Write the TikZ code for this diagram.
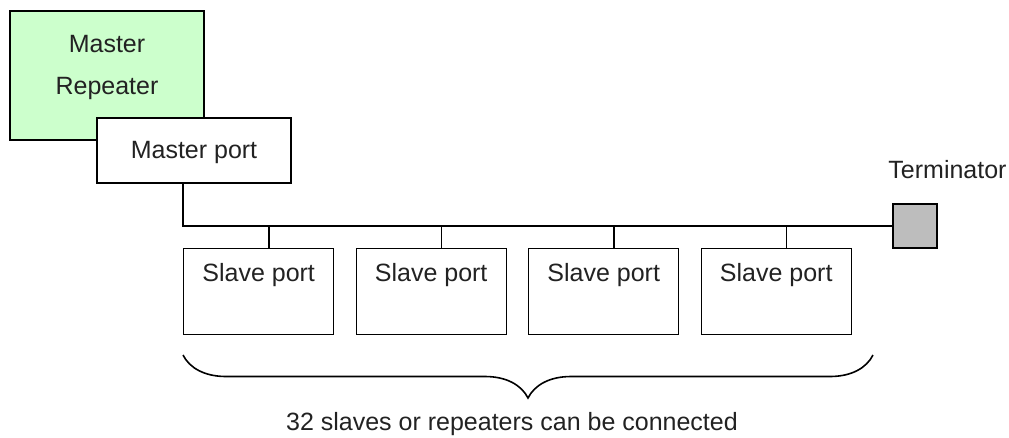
\documentclass[tikz,border=0pt]{standalone}
\usepackage{fontspec}
\setmainfont{Liberation Sans}
\usetikzlibrary{decorations.pathreplacing}
\definecolor{mrgreen}{HTML}{CCFFCC}
\definecolor{termgray}{HTML}{BDBDBD}
\definecolor{txtc}{HTML}{222222}
\tikzset{
  box/.style={draw=black, line width=1.4pt, fill=white, rectangle, inner sep=0pt},
  txt/.style={font=\fontsize{25}{30}\selectfont, text=txtc, inner sep=0pt},
  wire/.style={draw=black, line width=1.4pt}
}
\begin{document}
\begin{tikzpicture}[x=1pt,y=-1pt]
\useasboundingbox (0,0) rectangle (1009,437);
% Master repeater
\node[box, line width=2.6pt, fill=mrgreen, minimum width=194pt, minimum height=129pt] (mr) at (107,75.5) {};
\node[txt, anchor=base] (mrt1) at (107,52) {Master};
\node[txt, anchor=base] (mrt2) at (107,94) {Repeater};
% Master port
\node[box, minimum width=194pt, minimum height=65pt] (mp) at (194,150.5) {};
\node[txt, anchor=base] (mpt) at (194,158) {Master port};
% Terminator
\node[box, fill=termgray, minimum width=44pt, minimum height=44pt] (term) at (915,226) {};
\node[txt, anchor=base] (termt) at (947.5,178) {Terminator};
% Slave ports
\foreach \i/\x in {1/183,2/355.5,3/528,4/700.5}{
  \node[box, minimum width=150pt, minimum height=86pt, anchor=north west] (s\i) at (\x,248) {};
  \node[txt, anchor=base] (s\i t) at ([yshift=-33pt]s\i.north) {Slave port};
  \coordinate (b\i) at ([xshift=86pt]s\i.north west);
}
% Bus
\coordinate (bl) at (mp.south -| 183,0);
\coordinate (bc) at (183,226);
\coordinate (bt) at (873,226);
\draw[wire] (bl) -- (bc) -- (term.west);
\draw[black, line width=2.4pt] (bt) -- (term.west);
\foreach \i in {1,2,3,4}{
  \draw[wire] (b\i) -- (b\i |- bc);
}
% Brace
\coordinate (brl) at (183,355);
\coordinate (brr) at (873,355);
\draw[black, line width=1.6pt, decorate, decoration={brace, amplitude=43pt}] (brr) -- (brl);
\node[txt, anchor=base] (cap) at (512,430) {32 slaves or repeaters can be connected};
\end{tikzpicture}
\end{document}
